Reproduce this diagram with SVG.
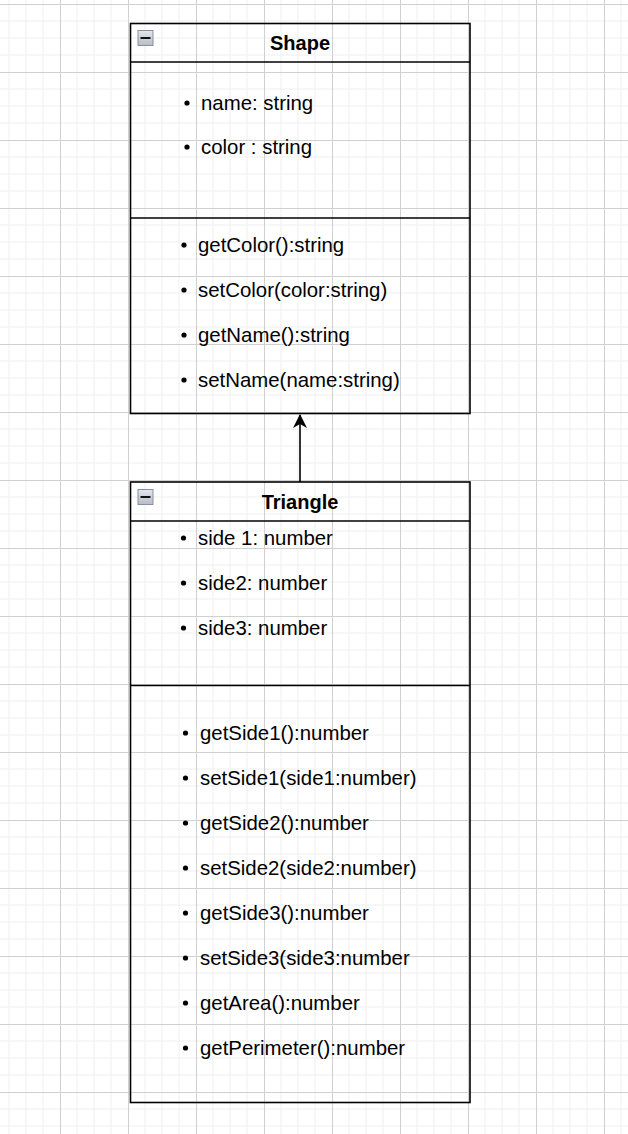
<svg xmlns="http://www.w3.org/2000/svg" xmlns:xlink="http://www.w3.org/1999/xlink" width="628" height="1134" viewBox="0 0 628 1134">
<style>
.box{fill:none;stroke:#000;stroke-width:1.6}
.ttl{font-family:"Liberation Sans",Arial,sans-serif;font-size:20px;font-weight:bold;fill:#000;text-anchor:middle}
.t{font-family:"Liberation Sans",Arial,sans-serif;font-size:20.4px;fill:#000}
.b{fill:#000}
.edge{stroke:#000;stroke-width:1.6;fill:none}
</style>
<defs>
<pattern id="grid" x="60" y="4" width="68" height="68" patternUnits="userSpaceOnUse">
<path d="M17 0V68M34 0V68M51 0V68M0 17H68M0 34H68M0 51H68" stroke="#efefef" stroke-width="1" fill="none"/>
<path d="M0.5 0V68M0 0.5H68" stroke="#d0d0d0" stroke-width="1" fill="none"/>
</pattern>
<linearGradient id="ig" x1="0" y1="0" x2="0" y2="1">
<stop offset="0" stop-color="#e4e6ec"/>
<stop offset="1" stop-color="#b8bcc8"/>
</linearGradient>
<g id="icon">
<rect x="0.5" y="0.5" width="15" height="15" fill="url(#ig)" stroke="#8a8f9f" stroke-width="1"/>
<rect x="3" y="7" width="10" height="2" fill="#111"/>
</g>
<marker id="arr" viewBox="0 0 14 14" markerWidth="14" markerHeight="14" refX="13" refY="7" orient="auto" markerUnits="userSpaceOnUse">
<path d="M0 0L14 7L0 14L4 7Z" fill="#000"/>
</marker>
</defs>
<rect width="628" height="1134" fill="#fff"/>
<rect width="628" height="1134" fill="url(#grid)"/>
<g id="connectors">
<line class="edge" x1="300" y1="482" x2="300" y2="415" marker-end="url(#arr)"/>
</g>
<g id="shape">
<rect class="box" x="130.5" y="23.5" width="339.5" height="390"/>
<line class="box" x1="130.5" y1="62" x2="470" y2="62"/>
<line class="box" x1="130.5" y1="218" x2="470" y2="218"/>
<use xlink:href="#icon" x="137.5" y="30"/>
<text class="ttl" x="300" y="50">Shape</text>
<circle class="b" cx="187" cy="103" r="2.6"/><text class="t" x="201" y="110">name: string</text>
<circle class="b" cx="187" cy="147" r="2.6"/><text class="t" x="201" y="154">color : string</text>
<circle class="b" cx="184" cy="245" r="2.6"/><text class="t" x="198" y="252">getColor():string</text>
<circle class="b" cx="184" cy="290" r="2.6"/><text class="t" x="198" y="297">setColor(color:string)</text>
<circle class="b" cx="184" cy="335" r="2.6"/><text class="t" x="198" y="342">getName():string</text>
<circle class="b" cx="184" cy="380" r="2.6"/><text class="t" x="198" y="387">setName(name:string)</text>
</g>
<g id="triangle">
<rect class="box" x="130.5" y="482" width="339.5" height="620.5"/>
<line class="box" x1="130.5" y1="521" x2="470" y2="521"/>
<line class="box" x1="130.5" y1="685.5" x2="470" y2="685.5"/>
<use xlink:href="#icon" x="137.5" y="489"/>
<text class="ttl" x="300" y="509">Triangle</text>
<circle class="b" cx="183.5" cy="538" r="2.6"/><text class="t" x="198" y="545">side 1: number</text>
<circle class="b" cx="183.5" cy="583" r="2.6"/><text class="t" x="198" y="590">side2: number</text>
<circle class="b" cx="183.5" cy="628" r="2.6"/><text class="t" x="198" y="635">side3: number</text>
<circle class="b" cx="185.5" cy="733" r="2.6"/><text class="t" x="200" y="740">getSide1():number</text>
<circle class="b" cx="185.5" cy="778" r="2.6"/><text class="t" x="200" y="785">setSide1(side1:number)</text>
<circle class="b" cx="185.5" cy="823" r="2.6"/><text class="t" x="200" y="830">getSide2():number</text>
<circle class="b" cx="185.5" cy="868" r="2.6"/><text class="t" x="200" y="875">setSide2(side2:number)</text>
<circle class="b" cx="185.5" cy="913" r="2.6"/><text class="t" x="200" y="920">getSide3():number</text>
<circle class="b" cx="185.5" cy="958" r="2.6"/><text class="t" x="200" y="965">setSide3(side3:number</text>
<circle class="b" cx="185.5" cy="1003" r="2.6"/><text class="t" x="200" y="1010">getArea():number</text>
<circle class="b" cx="185.5" cy="1048" r="2.6"/><text class="t" x="200" y="1055">getPerimeter():number</text>
</g>
</svg>
